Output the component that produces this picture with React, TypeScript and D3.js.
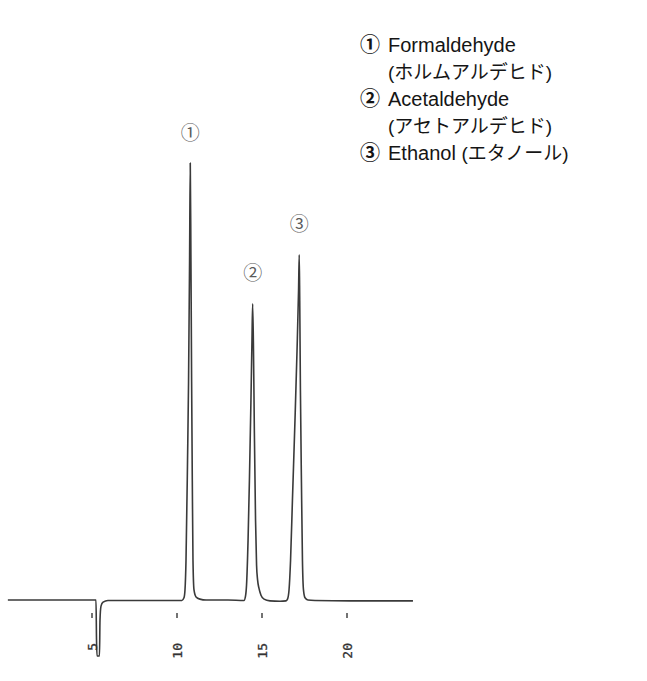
import React, { useRef, useEffect } from 'react';
import * as d3 from 'd3';

// chromatogram trace: retention time (min) and detector signal (peak 1 = 100)
const traceTime = [
  0.05, 5.18, 5.235, 5.265, 5.294, 5.44, 5.47, 5.53, 5.65, 5.94, 8.0,
  10.29, 10.41, 10.47, 10.53, 10.62, 10.68, 10.74, 10.78, 10.82, 10.86, 10.9, 10.94, 11.0, 11.12, 11.35, 11.71,
  13.0, 13.94, 14.03, 14.09, 14.18, 14.26, 14.35, 14.41, 14.45, 14.5, 14.55, 14.62, 14.68, 14.74, 14.82, 14.94, 15.12,
  15.47, 16.06, 16.41, 16.5, 16.59, 16.68, 16.79, 16.94, 17.06, 17.15, 17.19, 17.22, 17.26, 17.32, 17.38, 17.44, 17.53,
  17.7, 18.12, 20.18, 23.88
];
const traceSignal = [
  0, 0, 0, -9, -12.8, -12.8, -4.6, -1.4, -0.5, -0.1, -0.1,
  -0.1, 0.5, 2.3, 9.1, 32, 50, 77.6, 100, 77.6, 50, 27.4, 9.1, 2.3, 0.7, 0.2, 0,
  0, -0.1, 0.9, 3.4, 13.7, 27.4, 45.7, 59.4, 67.8, 57, 38.8, 18.3, 8, 4.6, 2.7, 1.1, 0.2,
  -0.2, -0.3, -0.2, 0.2, 2.3, 9.1, 22.8, 41.1, 57, 70.8, 79, 68.5, 48, 27, 9, 2.3, 0.5,
  0, -0.1, -0.2, -0.2
];

const peakTimes = [10.78, 14.45, 17.19];
const peakHeights = [100, 67.8, 79];
const peakMarks = ['①', '②', '③'];

const legendMarks = ['①', '', '②', '', '③'];
const legendLatin = ['Formaldehyde', '', 'Acetaldehyde', '', 'Ethanol '];
const legendKana = ['', '(ホルムアルデヒド)', '', '(アセトアルデヒド)', '(エタノール)'];

const tickValues = [5, 10, 15, 20];

const W = 647;
const H = 681;

const Chromatogram: React.FC = () => {
  const ref = useRef<SVGSVGElement>(null);

  useEffect(() => {
    const svg = d3.select(ref.current);
    svg.selectAll('*').remove();

    svg.append('rect').attr('width', W).attr('height', H).attr('fill', '#fff');

    const x = d3.scaleLinear().domain([5, 20]).range([92, 347]);
    const y = d3.scaleLinear().domain([0, 100]).range([600, 163]);

    const points: [number, number][] = traceTime.map((t, i) => [t, traceSignal[i]]);
    const line = d3.line<[number, number]>()
      .x(d => x(d[0]))
      .y(d => y(d[1]))
      .curve(d3.curveMonotoneX);

    svg.append('path')
      .datum(points)
      .attr('fill', 'none')
      .attr('stroke', '#3a3a3a')
      .attr('stroke-width', 1.6)
      .attr('stroke-linejoin', 'round')
      .attr('d', line);

    // time ticks: short marks below the baseline, rotated labels
    const ticks = svg.append('g');
    ticks.selectAll('line')
      .data(tickValues)
      .join('line')
      .attr('x1', d => x(d))
      .attr('x2', d => x(d))
      .attr('y1', 613)
      .attr('y2', 618)
      .attr('stroke', '#444')
      .attr('stroke-width', 1.5);

    ticks.selectAll('text')
      .data(tickValues)
      .join('text')
      .attr('transform', d => `translate(${x(d)},643) rotate(-90)`)
      .attr('text-anchor', 'end')
      .attr('dominant-baseline', 'central')
      .attr('font-family', '"DejaVu Sans Mono", monospace')
      .attr('font-size', 13)
      .attr('fill', '#333')
      .attr('stroke', '#333')
      .attr('stroke-width', 0.3)
      .text(d => String(d));

    // peak numbers
    svg.append('g').selectAll('text')
      .data(peakTimes)
      .join('text')
      .attr('x', d => x(d))
      .attr('y', (d, i) => y(peakHeights[i]) - 32)
      .attr('text-anchor', 'middle')
      .attr('dominant-baseline', 'central')
      .attr('font-family', '"Noto Sans CJK JP", sans-serif')
      .attr('font-size', 19)
      .attr('fill', '#5a5a5a')
      .text((d, i) => peakMarks[i]);

    // legend
    const legend = svg.append('g')
      .attr('font-family', '"Liberation Sans", "Noto Sans CJK JP", sans-serif')
      .attr('fill', '#151515');
    legendMarks.forEach((m, i) => {
      const by = 52 + i * 27;
      if (m) {
        legend.append('text')
          .attr('x', 360)
          .attr('y', by)
          .attr('font-family', '"Noto Sans CJK JP", sans-serif')
          .attr('font-weight', 700)
          .attr('font-size', 20)
          .text(m);
      }
      const t = legend.append('text').attr('x', 388).attr('y', by).attr('font-size', 20);
      if (legendLatin[i]) t.append('tspan').text(legendLatin[i]);
      if (legendKana[i]) t.append('tspan').attr('font-size', 19).text(legendKana[i]);
    });
  }, []);

  return <svg ref={ref} width={W} height={H} style={{ position: 'absolute', left: 0, top: 0 }}></svg>;
};

export default function App() {
  return <Chromatogram />;
}
